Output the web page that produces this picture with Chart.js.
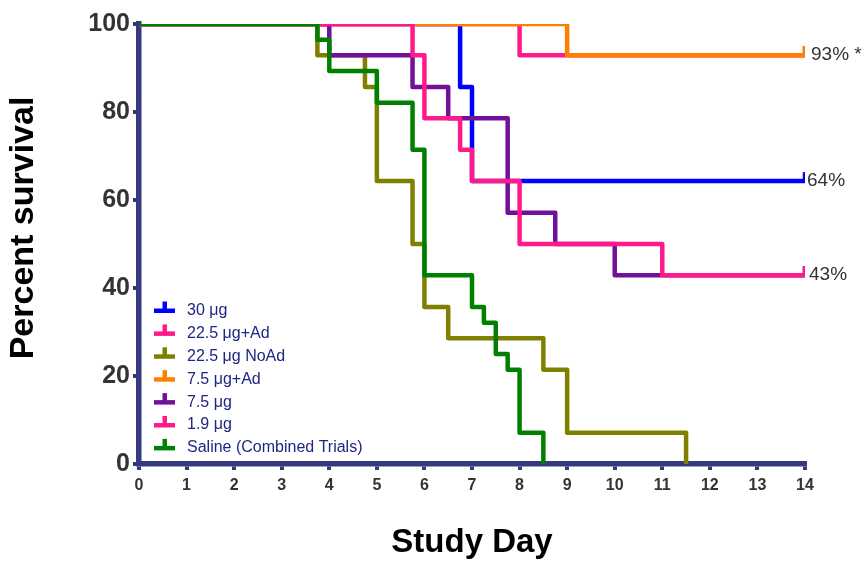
<!DOCTYPE html>
<html>
<head>
<meta charset="utf-8">
<script src="https://cdn.jsdelivr.net/npm/chart.js@4.4.1/dist/chart.umd.min.js"></script>
<style>
    body { margin: 0; background: #fff; overflow: hidden; }
    canvas { display: block; }
</style>
</head>
<body>
<canvas id="survivalChart" width="863" height="563"></canvas>
<script>
// group names, in legend order
const groupNames = ['30 μg', '22.5 μg+Ad', '22.5 μg NoAd', '7.5 μg+Ad', '7.5 μg', '1.9 μg', 'Saline (Combined Trials)'];
const groupColors = ['#0000ff', '#ff1a8c', '#808000', '#ff8000', '#73109a', '#ff1a8c', '#008000'];

// Kaplan-Meier steps: day of each change and the survival after it
const days30 = [0, 6.75, 7, 14];
const surv30 = [100, 85.7, 64.3, 64.3];
const days22Ad = [0, 8, 14];
const surv22Ad = [100, 92.9, 92.9];
const days22NoAd = [0, 3.75, 4.75, 5, 5.75, 6, 6.5, 8.5, 9, 11.5];
const surv22NoAd = [100, 92.9, 85.7, 64.3, 50, 35.7, 28.6, 21.4, 7.1, 0];
const days7Ad = [0, 9, 14];
const surv7Ad = [100, 92.9, 92.9];
const days7 = [0, 4, 5.75, 6.5, 7.75, 8.75, 10, 14];
const surv7 = [100, 92.9, 85.7, 78.6, 57.1, 50, 42.9, 42.9];
const days19 = [0, 5.75, 6, 6.75, 7, 8, 11, 14];
const surv19 = [100, 92.9, 78.6, 71.4, 64.3, 50, 42.9, 42.9];
const daysSaline = [0, 3.75, 4, 5, 5.75, 6, 7, 7.25, 7.5, 7.75, 8, 8.5];
const survSaline = [100, 96.4, 89.3, 82.1, 71.4, 42.9, 35.7, 32.1, 25, 21.4, 7.1, 0];

const allDays = [days30, days22Ad, days22NoAd, days7Ad, days7, days19, daysSaline];
const allSurv = [surv30, surv22Ad, surv22NoAd, surv7Ad, surv7, surv19, survSaline];

// labels at the right end of the curves (dataset index -> text)
const endLabels = [
    { group: 3, text: '93% *', dx: 6 },
    { group: 0, text: '64%', dx: 2 },
    { group: 5, text: '43%', dx: 4 }
];

const xTicks = { min: 0, max: 14, step: 1 };
const yTicks = { min: 0, max: 100, step: 20 };

const axisColor = '#353a7e';
const textColor = '#333333';
const legendTextColor = '#1f2583';

const datasets = groupNames.map((name, i) => {
    const pts = allDays[i].map((d, j) => ({ x: d, y: allSurv[i][j] }));
    return {
        label: name,
        data: pts,
        borderColor: groupColors[i],
        backgroundColor: groupColors[i],
        borderWidth: 4.5,
        borderJoinStyle: 'round',
        borderCapStyle: 'round',
        stepped: 'before',
        fill: false,
        // later groups drawn on top
        order: groupNames.length - i,
        pointStyle: 'dash',
        pointRotation: -90,
        pointBorderWidth: 4.5,
        pointRadius: function(ctx) {
            const last = pts.length - 1;
            return (ctx.dataIndex === last && pts[last].x === 14 && pts[last].y > 0) ? 9 : 0;
        },
        pointHoverRadius: 0
    };
});

// legend drawn inside the plot, bottom left
const insideLegend = {
    id: 'insideLegend',
    afterDatasetsDraw(chart) {
        const ctx = chart.ctx;
        ctx.save();
        ctx.font = '16px Arial, "Liberation Sans", sans-serif';
        ctx.textBaseline = 'middle';
        ctx.textAlign = 'left';
        groupNames.forEach((name, i) => {
            const y = 309.5 + i * 22.9;
            ctx.fillStyle = groupColors[i];
            ctx.fillRect(154, y - 1, 21, 4.5);
            ctx.fillRect(162.5, y - 8, 4.5, 8);
            ctx.fillStyle = legendTextColor;
            ctx.fillText(name, 187, y + 1);
        });
        ctx.restore();
    }
};

const curveEndLabels = {
    id: 'curveEndLabels',
    afterDatasetsDraw(chart) {
        const ctx = chart.ctx;
        const xs = chart.scales.x;
        const ys = chart.scales.y;
        ctx.save();
        ctx.font = '19px Arial, "Liberation Sans", sans-serif';
        ctx.fillStyle = textColor;
        ctx.textBaseline = 'middle';
        ctx.textAlign = 'left';
        endLabels.forEach(l => {
            const d = allDays[l.group];
            const s = allSurv[l.group];
            const px = xs.getPixelForValue(d[d.length - 1]);
            const py = ys.getPixelForValue(s[s.length - 1]);
            ctx.fillText(l.text, px + l.dx, py);
        });
        ctx.restore();
    }
};

// y axis title, sits a little above the middle of the axis like the original
const yTitle = {
    id: 'yTitle',
    afterDraw(chart) {
        const ctx = chart.ctx;
        ctx.save();
        ctx.translate(24, 228);
        ctx.rotate(-Math.PI / 2);
        ctx.font = 'bold 34px Arial, "Liberation Sans", sans-serif';
        ctx.fillStyle = '#000';
        ctx.textAlign = 'center';
        ctx.textBaseline = 'middle';
        ctx.fillText('Percent survival', 0, 0);
        ctx.restore();
    }
};

const ctx = document.getElementById('survivalChart').getContext('2d');
const chart = new Chart(ctx, {
    type: 'line',
    data: { datasets: datasets },
    options: {
        responsive: false,
        animation: false,
        layout: {
            padding: { left: 0, top: 24, right: 58, bottom: 0 }
        },
        plugins: {
            legend: { display: false },
            tooltip: { enabled: false }
        },
        scales: {
            x: {
                type: 'linear',
                min: xTicks.min,
                max: xTicks.max,
                afterFit: function(scale) { scale.height = 99; },
                border: { display: true, color: axisColor, width: 5.5 },
                grid: {
                    drawOnChartArea: false,
                    drawTicks: true,
                    tickLength: 6,
                    color: axisColor,
                    lineWidth: 4
                },
                ticks: {
                    stepSize: xTicks.step,
                    padding: 6,
                    color: textColor,
                    font: { size: 16, weight: 'bold' }
                },
                title: {
                    display: true,
                    text: 'Study Day',
                    color: '#000',
                    font: { size: 33, weight: 'bold' },
                    padding: { top: 0, bottom: 0 }
                }
            },
            y: {
                min: yTicks.min,
                max: yTicks.max,
                afterFit: function(scale) { scale.width = 139; },
                border: { display: true, color: axisColor, width: 5.5 },
                grid: {
                    drawOnChartArea: false,
                    drawTicks: true,
                    tickLength: 6,
                    color: axisColor,
                    lineWidth: 4
                },
                ticks: {
                    stepSize: yTicks.step,
                    padding: 3,
                    color: textColor,
                    font: { size: 25, weight: 'bold' }
                }
            }
        }
    },
    plugins: [insideLegend, curveEndLabels, yTitle]
});
</script>
</body>
</html>
